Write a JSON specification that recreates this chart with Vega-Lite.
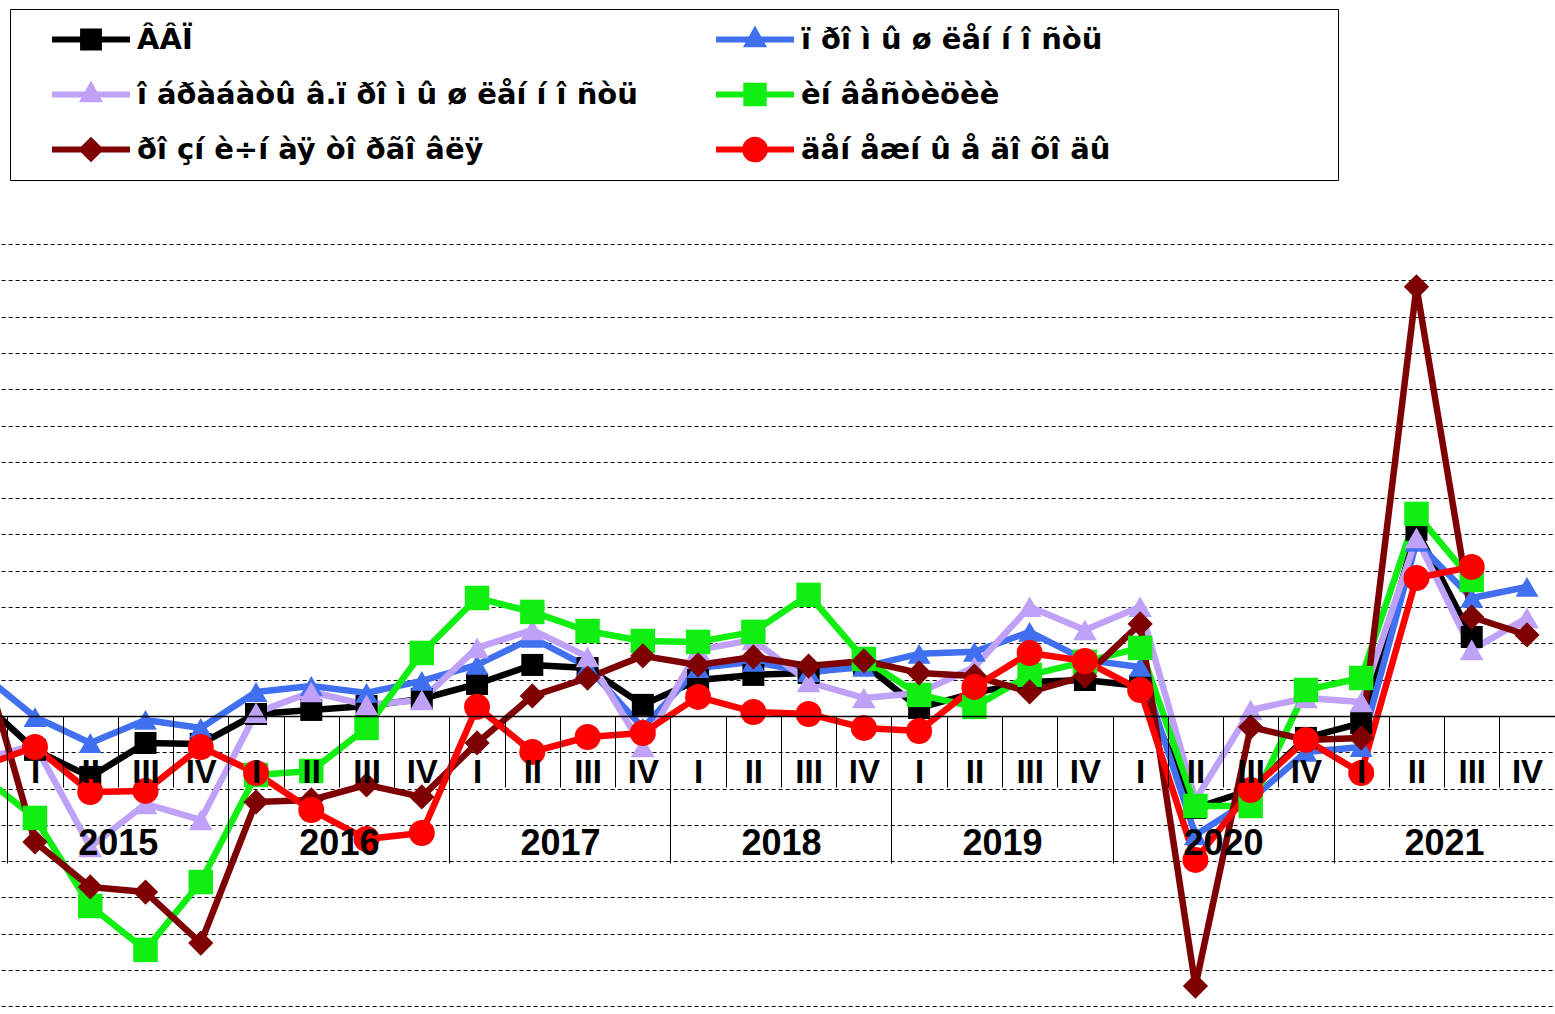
{
  "$schema": "https://vega.github.io/schema/vega-lite/v6.json",
  "width": 1555,
  "height": 770,
  "autosize": {"type": "none"},
  "padding": {"left": 0, "top": 244, "right": 0, "bottom": 0},
  "background": "white",
  "config": {"view": {"stroke": null}, "font": "Liberation Sans"},
  "datasets": {
    "rows": [
      {"q":"2014-IV","yr":"2014","gdp":0.94,"ind":2.42,"man":-2.42,"inv":-3.2,"ret":3.75,"inc":-2.81},
      {"q":"2015-I","yr":"2015","gdp":-1.87,"ind":-0.06,"man":-1.6,"inv":-5.62,"ret":-6.94,"inc":-1.71},
      {"q":"2015-II","yr":"2015","gdp":-3.36,"ind":-1.49,"man":-7.22,"inv":-10.47,"ret":-9.42,"inc":-4.19},
      {"q":"2015-III","yr":"2015","gdp":-1.49,"ind":-0.22,"man":-4.85,"inv":-12.89,"ret":-9.7,"inc":-4.13},
      {"q":"2015-IV","yr":"2015","gdp":-1.54,"ind":-0.66,"man":-5.73,"inv":-9.15,"ret":-12.51,"inc":-1.71},
      {"q":"2016-I","yr":"2016","gdp":0.11,"ind":1.32,"man":0.17,"inv":-3.25,"ret":-4.74,"inc":-3.14},
      {"q":"2016-II","yr":"2016","gdp":0.33,"ind":1.65,"man":1.32,"inv":-3.03,"ret":-4.63,"inc":-5.18},
      {"q":"2016-III","yr":"2016","gdp":0.55,"ind":1.27,"man":0.61,"inv":-0.66,"ret":-3.8,"inc":-6.78},
      {"q":"2016-IV","yr":"2016","gdp":0.94,"ind":1.93,"man":0.88,"inv":3.47,"ret":-4.46,"inc":-6.45},
      {"q":"2017-I","yr":"2017","gdp":1.76,"ind":2.81,"man":3.75,"inv":6.5,"ret":-1.49,"inc":0.5},
      {"q":"2017-II","yr":"2017","gdp":2.81,"ind":4.3,"man":4.74,"inv":5.73,"ret":1.1,"inc":-1.98},
      {"q":"2017-III","yr":"2017","gdp":2.64,"ind":2.7,"man":3.25,"inv":4.68,"ret":2.09,"inc":-1.16},
      {"q":"2017-IV","yr":"2017","gdp":0.61,"ind":-0.66,"man":-1.71,"inv":4.13,"ret":3.31,"inc":-0.94},
      {"q":"2018-I","yr":"2018","gdp":1.98,"ind":2.64,"man":3.64,"inv":4.08,"ret":2.81,"inc":1.05},
      {"q":"2018-II","yr":"2018","gdp":2.26,"ind":2.98,"man":4.19,"inv":4.63,"ret":3.25,"inc":0.22},
      {"q":"2018-III","yr":"2018","gdp":2.37,"ind":2.42,"man":1.87,"inv":6.67,"ret":2.75,"inc":0.11},
      {"q":"2018-IV","yr":"2018","gdp":2.87,"ind":2.7,"man":0.99,"inv":3.14,"ret":3.03,"inc":-0.66},
      {"q":"2019-I","yr":"2019","gdp":0.44,"ind":3.42,"man":1.27,"inv":1.16,"ret":2.37,"inc":-0.83},
      {"q":"2019-II","yr":"2019","gdp":1.27,"ind":3.53,"man":2.7,"inv":0.5,"ret":2.2,"inc":1.6},
      {"q":"2019-III","yr":"2019","gdp":1.87,"ind":4.63,"man":6.01,"inv":2.26,"ret":1.32,"inc":3.47},
      {"q":"2019-IV","yr":"2019","gdp":1.98,"ind":3.09,"man":4.74,"inv":2.98,"ret":2.2,"inc":3.03},
      {"q":"2020-I","yr":"2020","gdp":1.65,"ind":2.7,"man":6.01,"inv":3.75,"ret":5.07,"inc":1.43},
      {"q":"2020-II","yr":"2020","gdp":-5.07,"ind":-6.56,"man":-4.63,"inv":-4.96,"ret":-14.88,"inc":-7.93},
      {"q":"2020-III","yr":"2020","gdp":-4.08,"ind":-4.63,"man":0.33,"inv":-4.96,"ret":-0.61,"inc":-4.08},
      {"q":"2020-IV","yr":"2020","gdp":-1.21,"ind":-1.98,"man":0.99,"inv":1.43,"ret":-1.32,"inc":-1.32},
      {"q":"2021-I","yr":"2021","gdp":-0.39,"ind":-1.71,"man":0.77,"inv":2.09,"ret":-1.21,"inc":-3.14},
      {"q":"2021-II","yr":"2021","gdp":10.25,"ind":9.59,"man":9.81,"inv":11.13,"ret":23.64,"inc":7.6},
      {"q":"2021-III","yr":"2021","gdp":4.35,"ind":6.5,"man":3.64,"inv":7.49,"ret":5.45,"inc":8.21},
      {"q":"2021-IV","yr":"2021","ind":7.11,"man":5.4,"ret":4.46}
    ],
    "names": [
      {"key":"gdp","name":"ÂÂÏ"},
      {"key":"ind","name":"ï ðî ì û ø ëåí í î ñòü"},
      {"key":"man","name":"î áðàáàòû â.ï ðî ì û ø ëåí í î ñòü"},
      {"key":"inv","name":"èí âåñòèöèè"},
      {"key":"ret","name":"ðî çí è÷í àÿ òî ðãî âëÿ"},
      {"key":"inc","name":"äåí åæí û å äî õî äû"}
    ]
  },
  "data": {"name": "rows"},
  "transform": [
    {"fold": ["gdp","ind","man","inv","ret","inc"], "as": ["key","v"]},
    {"filter": "isValid(datum.v)"},
    {"lookup": "key", "from": {"data": {"name": "names"}, "key": "key", "fields": ["name"]}}
  ],
  "layer": [
    {
      "layer": [
        {
          "mark": {"type": "line", "strokeWidth": 6.5, "strokeJoin": "round", "clip": true},
          "encoding": {
            "x": {
              "field": "q", "type": "ordinal", "sort": null,
              "scale": {"type": "band", "paddingInner": 0, "paddingOuter": 0, "range": [-47.9, 1554.6]},
              "axis": {
                "orient": "bottom", "offset": -298, "title": null, "tickBand": "extent",
                "tickSize": 71, "tickColor": "#000", "tickWidth": 1,
                "domainColor": "#000", "domainWidth": 1.5,
                "labelExpr": "datum.value == '2014-IV' ? '' : split(datum.value,'-')[1]",
                "labelFont": "Liberation Sans", "labelFontWeight": "bold", "labelFontSize": 33,
                "labelColor": "#000", "labelBaseline": "middle", "labelPadding": -15,
                "labelAngle": 0, "labelOverlap": false, "grid": false, "zindex": 1
              }
            },
            "y": {
              "field": "v", "type": "quantitative",
              "scale": {"domain": [-16.42, 26], "nice": false, "zero": false},
              "axis": {
                "orient": "left", "title": null, "labels": false, "ticks": false, "domain": false,
                "grid": true, "gridColor": "#000", "gridDash": [4, 3], "gridWidth": 1, "tickCount": 40,
                "values": [-16,-14,-12,-10,-8,-6,-4,-2,2,4,6,8,10,12,14,16,18,20,22,24,26]
              }
            },
            "color": {
              "field": "name", "type": "nominal",
              "scale": {
                "domain": ["ÂÂÏ","ï ðî ì û ø ëåí í î ñòü","î áðàáàòû â.ï ðî ì û ø ëåí í î ñòü","èí âåñòèöèè","ðî çí è÷í àÿ òî ðãî âëÿ","äåí åæí û å äî õî äû"],
                "range": ["#000000","#4070F0","#BFA2F7","#11EE11","#7F0000","#FF0000"]
              }
            }
          }
        },
        {
          "mark": {"type": "point", "filled": true, "opacity": 1, "strokeWidth": 0, "clip": true},
          "encoding": {
            "x": {"field": "q", "type": "ordinal", "sort": null},
            "y": {"field": "v", "type": "quantitative"},
            "color": {
              "field": "name", "type": "nominal",
              "legend": {
                "title": " ", "titleOrient": "right", "titleFontSize": 1, "titlePadding": 225,
                "orient": "none", "legendX": 10, "legendY": -235, "direction": "horizontal",
                "columns": 2, "gridAlign": "all", "columnPadding": 39, "rowPadding": 0,
                "clipHeight": 55, "padding": 3,
                "strokeColor": "#000", "fillColor": "#fff",
                "labelFont": "DejaVu Sans", "labelFontWeight": "bold", "labelFontSize": 29,
                "labelColor": "#000", "labelOffset": 7, "labelLimit": 1000,
                "symbolOffset": 39,
                "symbolSize": 6084, "symbolStrokeWidth": 0, "symbolOpacity": 1,
                "symbolType": {"expr": "['M-1,-0.077H1V0.077H-1Z M-0.28,-0.28H0.28V0.28H-0.28Z','M-1,-0.077H1V0.077H-1Z M0,-0.36L0.31,0.2H-0.31Z','M-1,-0.077H1V0.077H-1Z M0,-0.36L0.31,0.2H-0.31Z','M-1,-0.077H1V0.077H-1Z M-0.3,-0.3H0.3V0.3H-0.3Z','M-1,-0.077H1V0.077H-1Z M0,-0.33L0.33,0L0,0.33L-0.33,0Z','M-1,-0.077H1V0.077H-1Z M-0.33,0A0.33,0.33 0 1,1 0.33,0A0.33,0.33 0 1,1 -0.33,0Z'][datum.index]"}
              }
            },
            "shape": {
              "field": "key", "type": "nominal", "legend": null,
              "scale": {
                "domain": ["gdp","ind","man","inv","ret","inc"],
                "range": ["square","triangle-up","triangle-up","square","diamond","circle"]
              }
            },
            "size": {
              "field": "key", "type": "nominal", "legend": null,
              "scale": {
                "domain": ["gdp","ind","man","inv","ret","inc"],
                "range": [484, 676, 676, 676, 676, 784]
              }
            }
          }
        }
      ]
    },
    {
      "mark": {"type": "point", "opacity": 0},
      "encoding": {
        "x": {
          "field": "yr", "type": "ordinal",
          "scale": {"type": "band", "paddingInner": 0, "paddingOuter": 0, "range": [-213.7, 1554.6]},
          "axis": {
            "orient": "bottom", "offset": -298, "title": null, "tickBand": "extent",
            "tickSize": 147, "tickColor": "#000", "tickWidth": 1, "domain": false,
            "labelExpr": "datum.value == '2014' ? '' : datum.label",
            "labelFont": "Liberation Sans", "labelFontWeight": "bold", "labelFontSize": 36,
            "labelColor": "#000", "labelBaseline": "middle", "labelPadding": -20,
            "labelAngle": 0, "labelOverlap": false, "grid": false, "zindex": 1
          }
        },
        "y": {"field": "v", "type": "quantitative"}
      }
    }
  ],
  "resolve": {"scale": {"x": "independent"}, "axis": {"x": "independent"}}
}
